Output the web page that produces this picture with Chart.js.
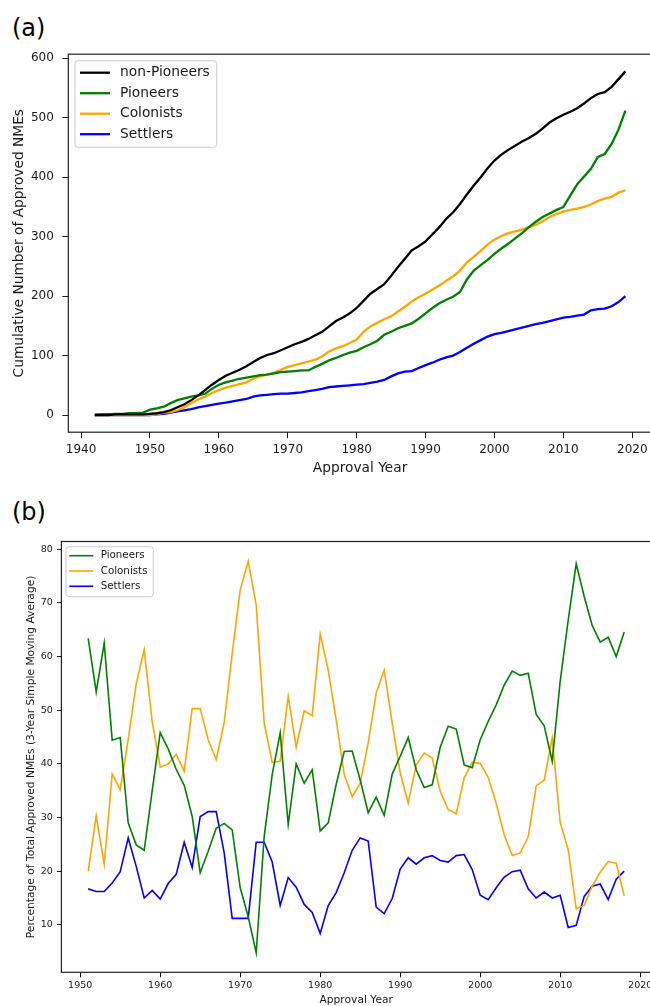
<!DOCTYPE html>
<html>
<head>
<meta charset="utf-8">
<script src="https://cdn.jsdelivr.net/npm/chart.js@4"></script>
<style>
html,body{margin:0;padding:0;width:650px;height:1006px;overflow:hidden;background:#fff;}
canvas{position:absolute;left:0;}
.tag{position:absolute;left:12px;font-family:'DejaVu Sans',sans-serif;font-size:24px;line-height:1;color:#000;}
</style>
</head>
<body>
<div class="tag" style="top:16px">(a)</div>
<div class="tag" style="top:499.5px">(b)</div>
<canvas id="cA" width="660" height="485" style="top:0px"></canvas>
<canvas id="cB" width="660" height="517" style="top:495px"></canvas>
<script>
// ---------- Panel (a): cumulative counts ----------
const yearsA = [1942,1943,1944,1945,1946,1947,1948,1949,
  1950,1951,1952,1953,1954,1955,1956,1957,1958,1959,
  1960,1961,1962,1963,1964,1965,1966,1967,1968,1969,
  1970,1971,1972,1973,1974,1975,1976,1977,1978,1979,
  1980,1981,1982,1983,1984,1985,1986,1987,1988,1989,
  1990,1991,1992,1993,1994,1995,1996,1997,1998,1999,
  2000,2001,2002,2003,2004,2005,2006,2007,2008,2009,
  2010,2011,2012,2013,2014,2015,2016,2017,2018,2019];
const nonPioneersCum = [0,0,0,1,1,1,1,1,
  2,3,5,8,13,18,25,33,42,51,
  59,66,71,76,82,89,96,101,104,109,
  114,119,123,128,134,140,149,158,164,171,
  180,192,204,212,220,234,249,263,277,284,
  292,304,316,330,341,355,371,386,400,415,
  428,438,446,453,460,466,473,482,492,499,
  505,510,516,524,533,540,543,552,565,578];
const pioneersCum = [0,1,1,2,2,3,3,4,
  9,11,14,20,25,28,31,33,36,44,
  51,55,58,61,63,65,67,68,70,72,
  73,74,75,75,81,86,92,96,101,105,
  108,114,119,125,135,140,146,150,154,162,
  171,180,188,194,199,207,228,243,252,261,
  271,280,288,297,306,316,325,333,339,345,
  350,369,388,401,414,434,439,456,480,512];
const colonistsCum = [0,0,0,0,0,0,0,0,
  0,1,4,5,8,13,20,26,31,37,
  42,46,49,52,55,61,65,68,71,76,
  81,84,87,90,93,99,107,112,116,121,
  127,140,149,155,161,166,174,182,191,198,
  204,211,218,226,233,243,257,266,276,287,
  295,301,306,309,312,316,320,326,333,338,
  342,345,347,350,354,360,364,367,374,378];
const settlersCum = [0,0,0,0,0,0,0,0,
  0,1,2,4,6,8,10,13,15,17,
  19,21,23,25,27,31,33,34,35,36,
  36,37,38,40,42,44,47,48,49,50,
  51,52,54,56,59,65,70,73,74,79,
  84,88,93,97,100,106,113,120,126,132,
  136,138,141,144,147,150,153,155,158,161,
  164,165,167,169,176,178,179,183,190,200];
const xTicksA = [1940,1950,1960,1970,1980,1990,2000,2010,2020];
const yTicksA = [0,100,200,300,400,500,600];
const seriesNamesA = ['non-Pioneers','Pioneers','Colonists','Settlers'];

// ---------- Panel (b): 3-year moving average percentages ----------
const yearsB = [1951,1952,1953,1954,1955,1956,1957,1958,1959,1960,
  1961,1962,1963,1964,1965,1966,1967,1968,1969,1970,
  1971,1972,1973,1974,1975,1976,1977,1978,1979,1980,
  1981,1982,1983,1984,1985,1986,1987,1988,1989,1990,
  1991,1992,1993,1994,1995,1996,1997,1998,1999,2000,
  2001,2002,2003,2004,2005,2006,2007,2008,2009,2010,
  2011,2012,2013,2014,2015,2016,2017,2018];
const pioneersPct = [63.4,53.4,62.5,44.4,44.9,29.0,24.9,23.9,35.0,45.8,
  42.8,39.0,36.0,30.2,19.7,23.7,28.0,28.9,27.7,16.9,
  11.5,4.8,26.5,38.0,45.8,28.7,40.0,36.4,38.9,27.5,
  29.0,36.2,42.3,42.4,37.0,30.9,33.8,30.4,38.1,41.4,
  44.9,38.9,35.6,36.1,43.1,47.0,46.5,39.8,39.3,44.5,
  47.9,51.0,54.7,57.3,56.5,56.9,49.2,47.1,40.5,55.4,
  66.8,77.3,71.2,65.8,62.7,63.6,60.0,64.6];
const colonistsPct = [20.0,30.3,21.3,38.1,35.2,44.5,54.9,61.3,47.9,39.4,
  40.0,41.8,38.6,50.3,50.3,44.5,40.8,47.7,60.6,72.4,
  77.8,69.6,47.6,40.3,40.5,52.6,43.1,49.9,49.0,64.2,
  57.5,48.2,38.0,33.9,36.4,43.9,53.2,57.5,47.6,38.3,
  32.7,39.8,42.0,41.1,34.9,31.5,30.7,37.4,40.3,40.1,
  37.5,32.6,26.8,22.9,23.4,26.4,35.9,37.0,44.8,29.1,
  24.0,13.0,13.6,17.2,19.8,21.8,21.5,15.4];
const settlersPct = [16.7,16.2,16.2,17.8,19.9,26.2,20.9,15.0,16.4,14.8,
  17.7,19.4,25.4,20.7,30.2,31.1,31.1,23.4,11.2,11.2,
  11.2,25.4,25.4,21.7,13.6,18.8,17.0,13.8,12.3,8.4,
  13.6,16.0,19.7,23.9,26.2,25.6,13.3,12.1,14.9,20.4,
  22.5,21.3,22.5,22.9,22.0,21.7,22.9,23.1,20.3,15.5,
  14.7,16.9,18.9,19.9,20.2,16.7,15.0,16.1,15.0,15.5,
  9.5,9.9,15.3,17.2,17.6,14.7,18.5,20.0];
const xTicksB = [1950,1960,1970,1980,1990,2000,2010,2020];
const yTicksB = [10,20,30,40,50,60,70,80];
const seriesNamesB = ['Pioneers','Colonists','Settlers'];

// ---------- helpers ----------
const FONT = "'DejaVu Sans', sans-serif";
const INK = '#1a1a1a';
const COLORS = {black:'#000000', green:'#008000', orange:'#FFA500', blue:'#0000FF'};
const toXY = (xs, ys) => xs.map((x, i) => ({x: x, y: ys[i]}));
const setTicks = list => scale => { scale.ticks = list.map(v => ({value: v})); };

const spines = {
  id: 'spines',
  afterDatasetsDraw(chart, args, o) {
    const {ctx, chartArea: a} = chart;
    ctx.save();
    ctx.strokeStyle = o.color; ctx.lineWidth = o.width;
    ctx.strokeRect(a.left, a.top, a.right - a.left, a.bottom - a.top);
    ctx.restore();
  }
};
const boxLegend = {
  id: 'boxLegend',
  afterDraw(chart, args, o) {
    const ctx = chart.ctx;
    ctx.save();
    const r = 3;
    ctx.beginPath();
    ctx.moveTo(o.x + r, o.y);
    ctx.arcTo(o.x + o.w, o.y, o.x + o.w, o.y + o.h, r);
    ctx.arcTo(o.x + o.w, o.y + o.h, o.x, o.y + o.h, r);
    ctx.arcTo(o.x, o.y + o.h, o.x, o.y, r);
    ctx.arcTo(o.x, o.y, o.x + o.w, o.y, r);
    ctx.closePath();
    ctx.fillStyle = 'rgba(255,255,255,0.8)';
    ctx.fill();
    ctx.strokeStyle = '#cccccc'; ctx.lineWidth = 1;
    ctx.stroke();
    ctx.font = o.fontSize + 'px ' + FONT;
    ctx.textBaseline = 'middle';
    chart.data.datasets.forEach((ds, i) => {
      const y = o.y0 + i * o.dy;
      ctx.strokeStyle = ds.borderColor; ctx.lineWidth = ds.borderWidth;
      ctx.beginPath(); ctx.moveTo(o.lx1, y); ctx.lineTo(o.lx2, y); ctx.stroke();
      ctx.fillStyle = INK;
      ctx.fillText(ds.label, o.tx, y);
    });
    ctx.restore();
  }
};

function axis(opts) {
  return {
    type: 'linear', min: opts.min, max: opts.max,
    afterBuildTicks: setTicks(opts.ticks),
    afterFit: opts.fit,
    ticks: {font: {family: FONT, size: opts.tickSize}, color: INK, padding: opts.pad,
            autoSkip: false, maxRotation: 0, callback: v => String(v)},
    grid: {display: true, drawOnChartArea: false, drawTicks: true,
           tickLength: opts.tickLen, tickColor: INK, tickWidth: 1},
    border: {display: false},
    title: {display: true, text: opts.title, color: INK,
            font: {family: FONT, size: opts.titleSize}, padding: opts.titlePad}
  };
}

function line(label, xs, ys, color, w) {
  return {label: label, data: toXY(xs, ys), borderColor: color, backgroundColor: color,
          borderWidth: w, pointRadius: 0, pointHoverRadius: 0, tension: 0, fill: false};
}

// ---------- Chart (a) ----------
new Chart(document.getElementById('cA'), {
  type: 'line',
  data: {datasets: [
    line(seriesNamesA[0], yearsA, nonPioneersCum, COLORS.black, 2.3),
    line(seriesNamesA[1], yearsA, pioneersCum, COLORS.green, 2.3),
    line(seriesNamesA[2], yearsA, colonistsCum, COLORS.orange, 2.3),
    line(seriesNamesA[3], yearsA, settlersCum, COLORS.blue, 2.3)
  ]},
  options: {
    responsive: false, animation: false, devicePixelRatio: 1,
    layout: {padding: {top: 54.2, right: 8.1, left: 0, bottom: 0}},
    scales: {
      x: axis({min: 1938.15, max: 2022.85, ticks: xTicksA, fit: s => { s.height = 52.8; },
               tickSize: 12, pad: 4, tickLen: 6, title: 'Approval Year', titleSize: 13.75,
               titlePad: {top: 0, bottom: 8.75}}),
      y: axis({min: -28.9, max: 606.9, ticks: yTicksA, fit: s => { s.width = 68.3; },
               tickSize: 12, pad: 8.5, tickLen: 6, title: 'Cumulative Number of Approved NMEs',
               titleSize: 13.75, titlePad: {top: 10.75, bottom: 0}})
    },
    plugins: {
      legend: {display: false}, tooltip: {enabled: false},
      spines: {color: '#222', width: 1.2},
      boxLegend: {x: 75, y: 60.7, w: 141.7, h: 86.6, lx1: 80, lx2: 110, tx: 120,
                  y0: 72.7, dy: 20.5, fontSize: 13.8}
    }
  },
  plugins: [spines, boxLegend]
});

// ---------- Chart (b) ----------
new Chart(document.getElementById('cB'), {
  type: 'line',
  data: {datasets: [
    line(seriesNamesB[0], yearsB, pioneersPct, COLORS.green, 1.6),
    line(seriesNamesB[1], yearsB, colonistsPct, COLORS.orange, 1.6),
    line(seriesNamesB[2], yearsB, settlersPct, COLORS.blue, 1.6)
  ]},
  options: {
    responsive: false, animation: false, devicePixelRatio: 1,
    layout: {padding: {top: 46.5, right: 9, left: 0, bottom: 0}},
    scales: {
      x: axis({min: 1947.65, max: 2021.35, ticks: xTicksB, fit: s => { s.height = 39.7; },
               tickSize: 9.5, pad: 3, tickLen: 5, title: 'Approval Year', titleSize: 10.7,
               titlePad: {top: 0, bottom: 5.6}}),
      y: axis({min: 1.15, max: 81.45, ticks: yTicksB, fit: s => { s.width = 61.4; },
               tickSize: 9.5, pad: 4, tickLen: 4.5,
               title: 'Percentage of Total Approved NMEs (3-Year Simple Moving Average)',
               titleSize: 10.7, titlePad: {top: 24.6, bottom: 0}})
    },
    plugins: {
      legend: {display: false}, tooltip: {enabled: false},
      spines: {color: '#222', width: 1.2},
      boxLegend: {x: 66, y: 51.7, w: 87.3, h: 50, lx1: 69.3, lx2: 93.3, tx: 100.7,
                  y0: 60.7, dy: 15.3, fontSize: 10.3}
    }
  },
  plugins: [spines, boxLegend]
});
</script>
</body>
</html>
